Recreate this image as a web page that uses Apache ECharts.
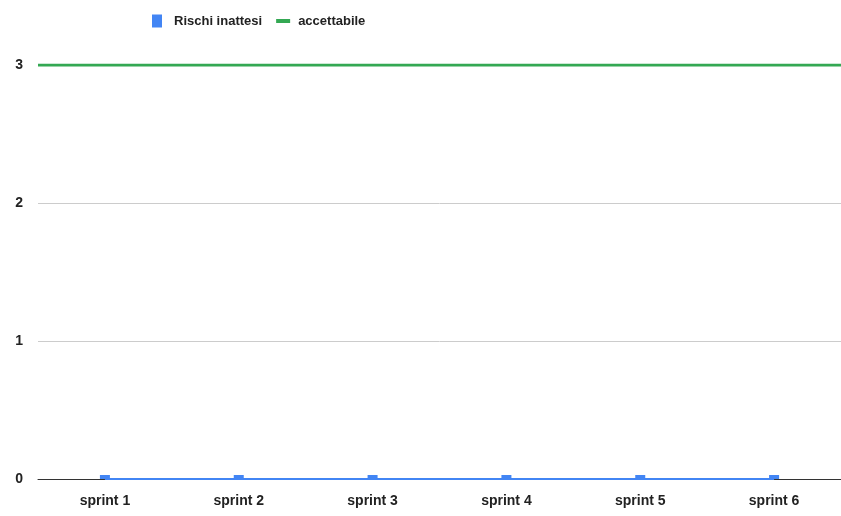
<!DOCTYPE html>
<html>
<head>
<meta charset="utf-8">
<script src="https://cdn.jsdelivr.net/npm/echarts@6/dist/echarts.min.js"></script>
<style>
  html, body { margin: 0; padding: 0; background: #fff; }
  #main { width: 841px; height: 516px; }
</style>
</head>
<body>
<div id="main"></div>
<script>
// dati
var categories = ['sprint 1', 'sprint 2', 'sprint 3', 'sprint 4', 'sprint 5', 'sprint 6'];
var rischiInattesi = [0, 0, 0, 0, 0, 0];
var accettabile = [3, 3, 3, 3, 3, 3];
var yTicks = [0, 1, 2, 3];

var myChart = echarts.init(document.getElementById('main'));

var labelFont = {
    fontFamily: 'Liberation Sans, Arial, sans-serif',
    fontWeight: 'bold',
    fontSize: 14,
    color: '#222'
};

var option = {
    animation: false,
    legend: {
        left: 147,
        top: 9,
        itemWidth: 14,
        itemHeight: 14,
        itemGap: 14,
        textStyle: Object.assign({}, labelFont, { fontSize: 13, padding: [0, 0, 0, 3] }),
        data: [
            // il riquadro blu: 10x13, con margine trasparente a destra
            { name: 'Rischi inattesi', icon: 'path://M0,0L0,0M0,0H10V13H0ZM14,13L14,13' },
            // la barretta verde, sottile e orizzontale
            { name: 'accettabile', icon: 'path://M0,0L0,0M0,5H14V9H0ZM14,14L14,14', itemStyle: { color: '#34A853' } }
        ]
    },
    grid: {
        left: 38,
        right: -5,
        top: 65,
        bottom: 37
    },
    xAxis: [{
        type: 'category',
        data: categories,
        axisTick: { show: false },
        axisLine: { lineStyle: { color: '#333', width: 1 } },
        axisLabel: Object.assign({ margin: 15 }, labelFont)
    }, {
        // asse nascosto per la linea che copre tutta la larghezza
        type: 'category',
        data: categories,
        boundaryGap: false,
        show: false
    }],
    yAxis: {
        type: 'value',
        min: 0,
        max: yTicks[yTicks.length - 1],
        interval: 1,
        axisLine: { show: false },
        axisTick: { show: false },
        splitLine: { lineStyle: { color: '#ccc' } },
        axisLabel: Object.assign({ margin: 15 }, labelFont)
    },
    series: [{
        name: 'Rischi inattesi',
        type: 'bar',
        data: rischiInattesi,
        barWidth: 10,
        barMinHeight: 4,
        itemStyle: { color: '#4285F4' },
        z: 3
    }, {
        name: 'Rischi inattesi',
        type: 'line',
        data: rischiInattesi,
        symbol: 'none',
        lineStyle: { color: '#4285F4', width: 2 },
        z: 2
    }, {
        name: 'accettabile',
        type: 'line',
        xAxisIndex: 1,
        data: accettabile,
        symbol: 'none',
        itemStyle: { color: '#34A853' },
        lineStyle: { color: '#34A853', width: 3 },
        z: 4
    }]
};

myChart.setOption(option);
</script>
</body>
</html>
